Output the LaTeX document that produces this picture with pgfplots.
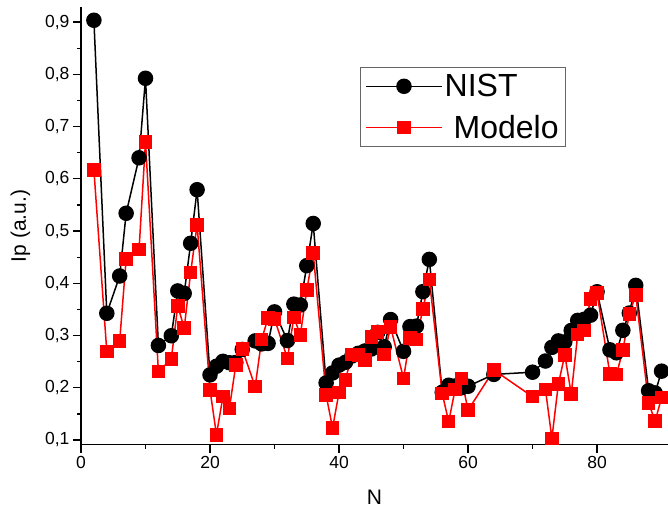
\documentclass[border=0pt]{standalone}
\usepackage{fontspec}
\setmainfont{Liberation Sans}
\usepackage{pgfplots}
\pgfplotsset{compat=1.18}

\begin{document}
\begin{tikzpicture}
\begin{axis}[
  name=ax,
  scale only axis,
  width=587pt, height=437.7pt,
  xmin=0, xmax=91,
  ymin=0.091, ymax=0.929,
  axis lines=left,
  axis line style={-, line width=1.5pt},
  tick align=outside,
  major tick length=8pt, minor tick length=4pt,
  every tick/.style={black, line width=1.3pt},
  xtick={0,20,...,80}, minor x tick num=1,
  ytick={0.1,0.2,...,0.9}, minor y tick num=1,
  /pgf/number format/assume math mode=true,
  yticklabel style={/pgf/number format/.cd, use comma, fixed, fixed zerofill, precision=1},
  ticklabel style={font=\fontsize{17.5}{20}\selectfont},
  label style={font=\fontsize{21}{24}\selectfont},
  xlabel={N}, ylabel={Ip (a.u.)},
  xlabel style={yshift=-15pt},
  ylabel style={yshift=8pt},
  legend style={at={(0.475,0.863)}, anchor=north west, draw=gray!80!black, line width=0.8pt,
    font=\fontsize{32}{34}\selectfont, row sep=13pt, inner xsep=5pt, inner ysep=5pt},
  legend cell align=left,
  legend image code/.code={\draw[mark repeat=2, mark phase=2, #1] plot coordinates {(0pt,0pt) (38pt,0pt) (76pt,0pt)};},
]
\addplot[black, line width=1.5pt, mark=*, mark size=7pt, mark options={fill=black}] coordinates {
(2,0.9036) (4,0.3426) (6,0.4140) (7,0.5341) (9,0.6403) (10,0.7925) (12,0.2810) (14,0.2996)
(15,0.3854) (16,0.3807) (17,0.4766) (18,0.5792) (20,0.2247) (21,0.2412) (22,0.2506) (23,0.2479)
(24,0.2484) (25,0.2734) (27,0.2897) (28,0.2840) (29,0.2850) (30,0.3453) (32,0.2904) (33,0.3601)
(34,0.3585) (35,0.4338) (36,0.5145) (38,0.2093) (39,0.2284) (40,0.2433) (41,0.2488) (42,0.2609)
(43,0.2660) (44,0.2704) (45,0.2742) (46,0.3060) (47,0.2784) (48,0.3306) (50,0.2698) (51,0.3170)
(52,0.3180) (53,0.3840) (54,0.4458) (56,0.1915) (57,0.2048) (58,0.2035) (59,0.2001) (60,0.2029)
(64,0.2256) (70,0.2298) (72,0.2512) (73,0.2774) (74,0.2897) (75,0.2879) (76,0.3097) (77,0.3290)
(78,0.3310) (79,0.3390) (80,0.3838) (82,0.2726) (83,0.2670) (84,0.3100) (85,0.3430) (86,0.3960)
(88,0.1943) (89,0.1901) (90,0.2318)};
\addlegendentry{NIST}
\addplot[red, line width=1.5pt, mark=square*, mark size=6pt, mark options={fill=red}] coordinates {
(2,0.617) (4,0.269) (6,0.290) (7,0.447) (9,0.465) (10,0.671) (12,0.231) (14,0.255)
(15,0.357) (16,0.314) (17,0.421) (18,0.512) (20,0.196) (21,0.110) (22,0.183) (23,0.160)
(24,0.244) (25,0.274) (27,0.202) (28,0.292) (29,0.334) (30,0.332) (32,0.256) (33,0.335)
(34,0.301) (35,0.387) (36,0.458) (38,0.186) (39,0.123) (40,0.191) (41,0.215) (42,0.264)
(43,0.263) (44,0.253) (45,0.297) (46,0.307) (47,0.264) (48,0.316) (50,0.218) (51,0.295)
(52,0.292) (53,0.351) (54,0.407) (56,0.189) (57,0.135) (58,0.197) (59,0.218) (60,0.157)
(64,0.234) (70,0.183) (72,0.197) (73,0.103) (74,0.207) (75,0.263) (76,0.188) (77,0.302)
(78,0.310) (79,0.370) (80,0.381) (82,0.226) (83,0.225) (84,0.272) (85,0.341) (86,0.378)
(88,0.171) (89,0.136) (90,0.181)};
\addlegendentry{~Modelo}
\end{axis}
\pgfresetboundingbox
\useasboundingbox ([xshift=-81pt,yshift=-65.3pt]ax.south west) rectangle ([yshift=7pt]ax.north east);
\end{tikzpicture}
\end{document}
